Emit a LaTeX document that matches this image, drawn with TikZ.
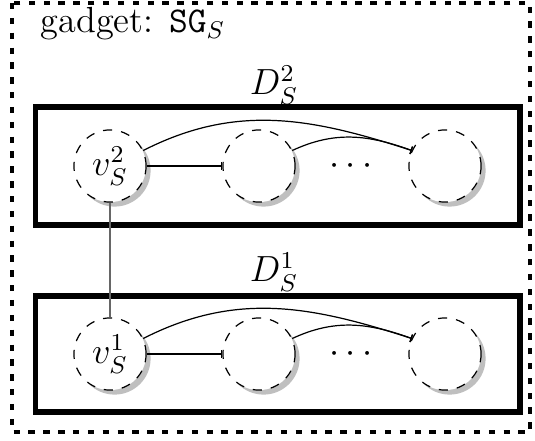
\documentclass[tikz,border=0pt]{standalone}
\usetikzlibrary{positioning,shadows,arrows.meta}
\usepackage{amsmath,amssymb}

\begin{document}
\begin{tikzpicture}[x=0.33pt,y=0.33pt,font=\large,
	vert/.style={circle,draw,dashed,fill=white,inner sep=0pt,minimum size=23.8pt,
		drop shadow={shadow xshift=1.5pt,shadow yshift=-1.5pt,fill=black!25,opacity=1}},
	dbox/.style={draw,line width=1.7pt,inner sep=0pt,minimum width=160pt},
	link/.style={-{Bar[width=2.6pt]},thin}
	]
	\useasboundingbox (0,0) rectangle (535,440);

	% outer gadget frame
	\draw[line width=1.6pt,dash pattern=on 2.1pt off 2.8pt] (12,437) rectangle (530,8);
	\node[anchor=base west,inner sep=0pt] (title) at (40,407) {gadget: $\mathtt{SG}_S$};

	\node[dbox,minimum height=38.9pt] (D2) at (277.5,274) {};
	\node[dbox,minimum height=38.3pt] (D1) at (277.5,86) {};
	\node (l2) at (274,355) {$D_S^2$};
	\node (l1) at (274,168) {$D_S^1$};

	% upper copy
	\node[vert] (v2) at (110,274) {$v_S^2$};
	\node[vert] (a2) at (259,274) {};
	\node[vert] (b2) at (445,274) {};
	\node (d2) at (354,274) {$\cdots$};

	% lower copy
	\node[vert] (v1) at (110,86) {$v_S^1$};
	\node[vert] (a1) at (259,86) {};
	\node[vert] (b1) at (445,86) {};
	\node (d1) at (354,86) {$\cdots$};

	\draw[link] (v2.east) -- (a2.west);
	\draw[link] (v2.25) to[out=27,in=162] (b2.155);
	\draw[link] (a2.25) to[out=25,in=160] (b2.155);

	\draw[link] (v1.east) -- (a1.west);
	\draw[link] (v1.25) to[out=27,in=162] (b1.155);
	\draw[link] (a1.25) to[out=25,in=160] (b1.155);

	\draw[black!60,thin] (v2.south) -- (v1.north);

\end{tikzpicture}
\end{document}
